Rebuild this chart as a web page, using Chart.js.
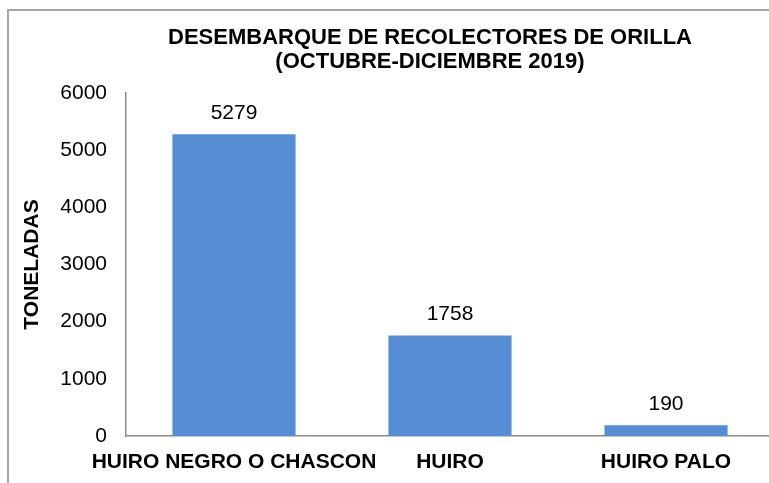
<!DOCTYPE html>
<html>
<head>
<meta charset="utf-8">
<script src="https://cdn.jsdelivr.net/npm/chart.js@4/dist/chart.umd.min.js"></script>
<style>
    html, body { margin: 0; padding: 0; background: #fff; overflow: hidden; }
    #wrap { width: 780px; height: 483px; position: relative; }
</style>
</head>
<body>
<div id="wrap"><canvas id="chart"></canvas></div>
<script>
    // chart data
    var categories = ['HUIRO NEGRO O CHASCON', 'HUIRO', 'HUIRO PALO'];
    var toneladas = [5279, 1758, 190];
    var titleLines = ['DESEMBARQUE DE RECOLECTORES DE ORILLA', '(OCTUBRE-DICIEMBRE 2019)'];
    var yTitle = 'TONELADAS';
    var yMin = 0, yMax = 6000, yStep = 1000;

    var FONT = '"Liberation Sans", Arial, sans-serif';
    var BAR_COLOR = '#558ed5';
    var AXIS_COLOR = '#8c8c8c';

    /**
     * Frame, title and value labels drawn on the canvas.
     */
    var decorPlugin = {
        id: 'decor',
        beforeDraw: function(chart){
            var ctx = chart.ctx;
            ctx.save();
            ctx.fillStyle = '#fff';
            ctx.fillRect(0, 0, chart.width, chart.height);
            ctx.strokeStyle = '#a6a6a6';
            ctx.lineWidth = 2;
            ctx.beginPath();
            ctx.moveTo(8, chart.height);
            ctx.lineTo(8, 10);
            ctx.lineTo(chart.width, 10);
            ctx.stroke();

            ctx.fillStyle = '#000';
            ctx.font = 'bold 22px ' + FONT;
            ctx.textAlign = 'center';
            ctx.textBaseline = 'middle';
            titleLines.forEach(function(line, i){
                ctx.fillText(line, 430, 38 + i * 24);
            });
            ctx.restore();
        },
        afterDatasetsDraw: function(chart){
            var ctx = chart.ctx;
            var meta = chart.getDatasetMeta(0);
            ctx.save();
            ctx.fillStyle = '#000';
            ctx.font = '21px ' + FONT;
            ctx.textAlign = 'center';
            ctx.textBaseline = 'middle';
            meta.data.forEach(function(bar, i){
                ctx.fillText(String(toneladas[i]), bar.x, bar.y - 21);
            });
            ctx.restore();
        }
    };

    var ctx = document.getElementById('chart').getContext('2d');
    var myChart = new Chart(ctx, {
        type: 'bar',
        data: {
            labels: categories,
            datasets: [{
                label: yTitle,
                data: toneladas,
                backgroundColor: BAR_COLOR,
                borderWidth: 0,
                categoryPercentage: 1,
                barPercentage: 0.57
            }]
        },
        plugins: [decorPlugin],
        options: {
            responsive: true,
            maintainAspectRatio: false,
            animation: false,
            layout: {
                padding: { top: 93, right: 6, left: 0, bottom: 0 }
            },
            plugins: {
                legend: { display: false },
                title: { display: false },
                tooltip: { enabled: false }
            },
            scales: {
                x: {
                    grid: { display: false, drawTicks: false },
                    border: { display: true, color: AXIS_COLOR, width: 1.5 },
                    ticks: {
                        color: '#000',
                        padding: 14,
                        maxRotation: 0,
                        autoSkip: false,
                        font: { family: FONT, size: 21, weight: 'bold' }
                    },
                    afterFit: function(scale){ scale.height = 47; }
                },
                y: {
                    min: yMin,
                    max: yMax,
                    grid: { display: false, drawTicks: false },
                    border: { display: true, color: AXIS_COLOR, width: 1.5 },
                    ticks: {
                        stepSize: yStep,
                        color: '#000',
                        padding: 19,
                        font: { family: FONT, size: 21 },
                        callback: function(value){ return String(value); }
                    },
                    title: {
                        display: true,
                        text: yTitle,
                        color: '#000',
                        padding: { top: 20, bottom: 0 },
                        font: { family: FONT, size: 21, weight: 'bold' }
                    },
                    afterFit: function(scale){ scale.width = 126; }
                }
            }
        }
    });
</script>
</body>
</html>
